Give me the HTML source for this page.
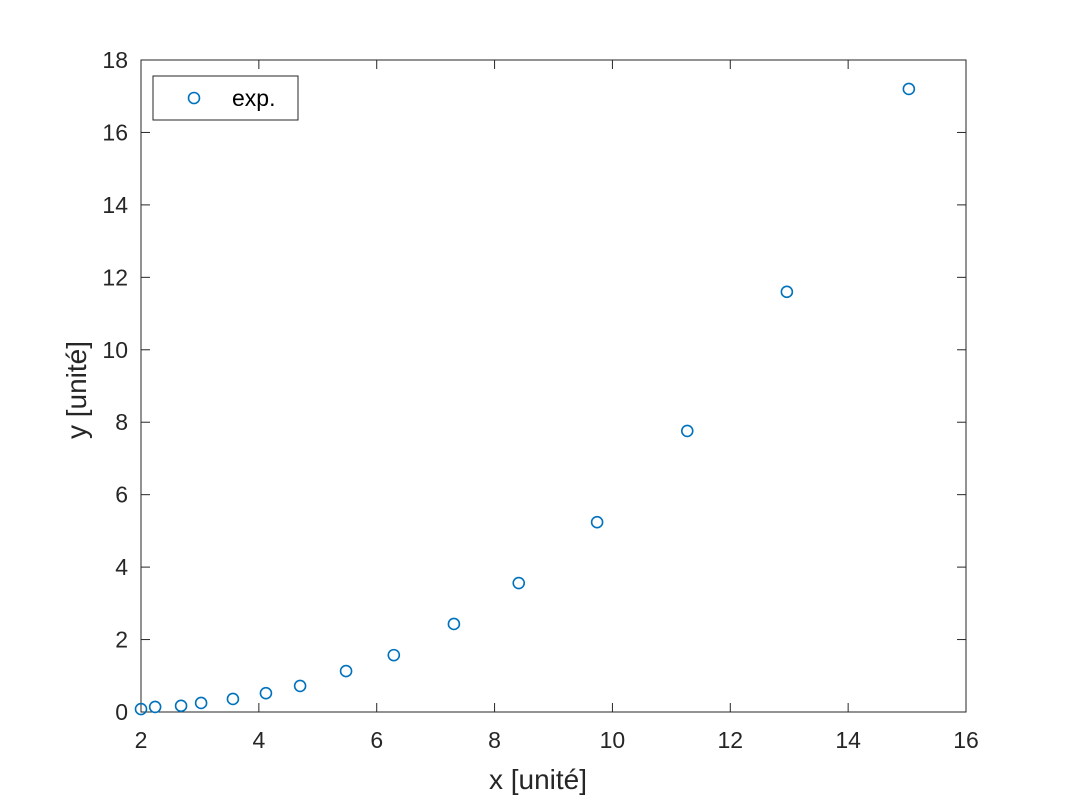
<!DOCTYPE html>
<html><head><meta charset="utf-8"><style>
body{margin:0;background:#fff;}
svg{display:block;font-family:"Liberation Sans",sans-serif;}
</style></head><body>
<svg id="chart" width="1067" height="800">
<rect x="0" y="0" width="1067" height="800" fill="#fff"/>
<g id="axes"></g>
<g id="points"></g>
<g>
<rect x="153" y="76" width="145" height="44" fill="#fff" stroke="#262626" stroke-width="1"/>
<circle cx="194" cy="98" r="5.5" fill="none" stroke="#0072BD" stroke-width="1.6"/>
<text x="232" y="106" font-size="23" fill="#000">exp.</text>
</g>
<text x="538" y="789" font-size="28" text-anchor="middle" fill="#262626">x [unité]</text>
<text transform="translate(86,390) rotate(-90)" font-size="28" text-anchor="middle" fill="#262626">y [unité]</text>
</svg>
<script>
const xData=[2.0,2.24,2.68,3.02,3.56,4.12,4.70,5.48,6.29,7.31,8.41,9.74,11.27,12.96,15.03];
const yData=[0.08,0.14,0.17,0.25,0.36,0.52,0.72,1.13,1.57,2.43,3.56,5.24,7.76,11.6,17.2];
const xTicks=[2,4,6,8,10,12,14,16];
const yTicks=[0,2,4,6,8,10,12,14,16,18];
const L=141,R=966,T=60,B=712;
const sx=v=>L+(v-2)/14*(R-L);
const sy=v=>B-v/18*(B-T);
const NS="http://www.w3.org/2000/svg";
const ax=document.getElementById('axes'),pg=document.getElementById('points');
function mk(t,a,p){const e=document.createElementNS(NS,t);for(const k in a)e.setAttribute(k,a[k]);p.appendChild(e);return e;}
const box=mk('rect',{x:L,y:T,width:R-L,height:B-T,fill:'none',stroke:'#262626','stroke-width':1},ax);


xTicks.forEach(v=>{const x=sx(v);
mk('line',{x1:x,x2:x,y1:B,y2:B-9,stroke:'#262626'},ax);
mk('line',{x1:x,x2:x,y1:T,y2:T+9,stroke:'#262626'},ax);
const t=mk('text',{x:x,y:B+36,'font-size':23,'text-anchor':'middle',fill:'#262626'},ax);t.textContent=v;

});
yTicks.forEach(v=>{const y=sy(v);
mk('line',{x1:L,x2:L+9,y1:y,y2:y,stroke:'#262626'},ax);
mk('line',{x1:R,x2:R-9,y1:y,y2:y,stroke:'#262626'},ax);
const t=mk('text',{x:L-13,y:y+8,'font-size':23,'text-anchor':'end',fill:'#262626'},ax);t.textContent=v;

});
xData.forEach((v,i)=>{const c=mk('circle',{cx:sx(v),cy:sy(yData[i]),r:5.5,fill:'none',stroke:'#0072BD','stroke-width':1.6},pg);

});
</script>
</body></html>
